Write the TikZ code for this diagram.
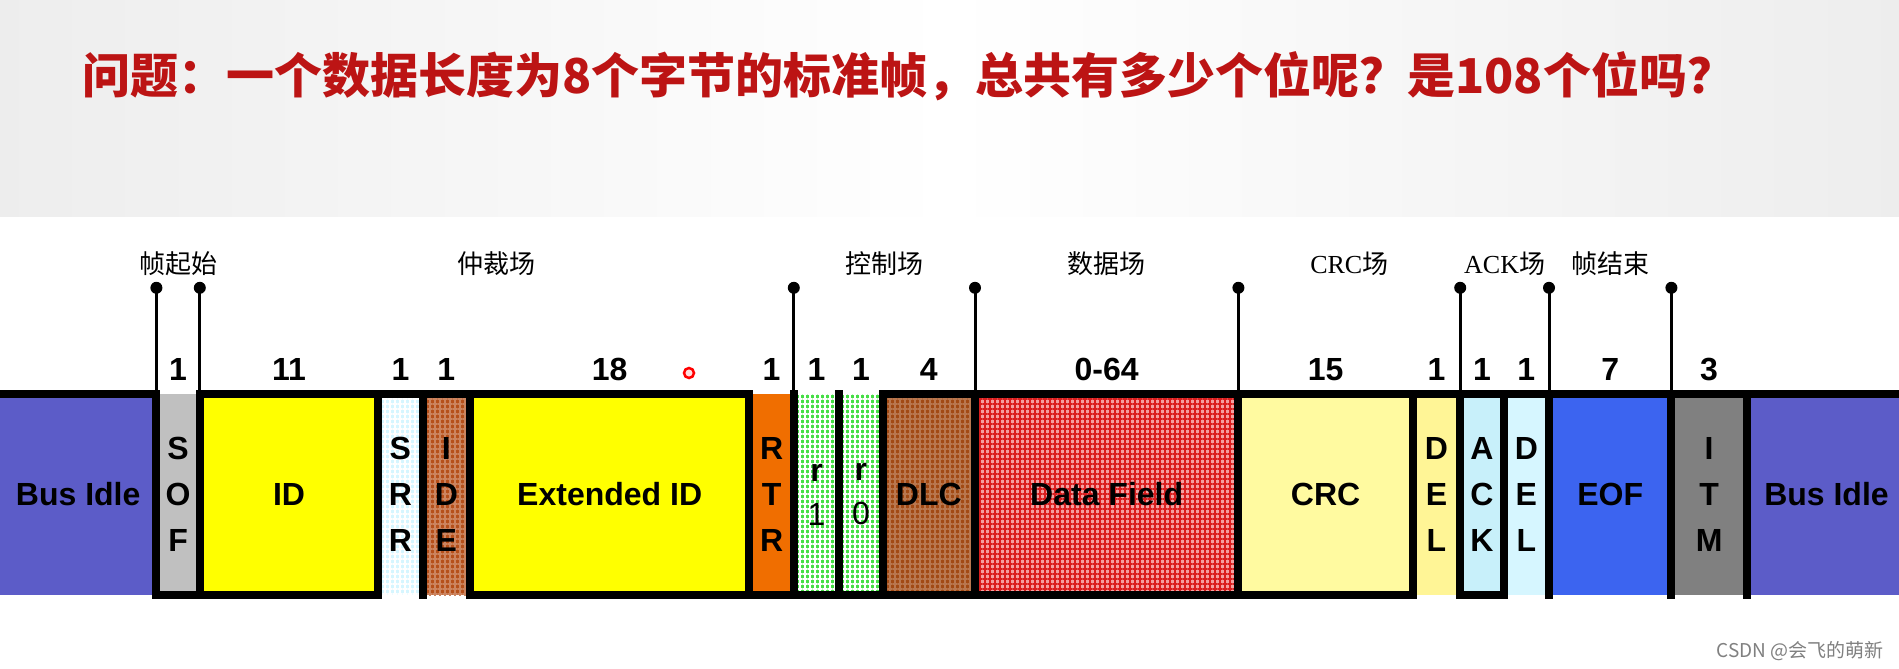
\documentclass[tikz,border=0pt]{standalone}
\usepackage{fontspec}
\setmainfont{Liberation Sans}
\newfontfamily\cjk{Noto Sans CJK SC}
\newfontfamily\romanf{Liberation Serif}
\usepackage{xcolor}
\usepackage{tikz}
\usetikzlibrary{positioning, calc, patterns.meta}

\definecolor{idleblue}{RGB}{92,92,200}
\definecolor{sofgray}{RGB}{192,192,192}
\definecolor{idyellow}{RGB}{255,255,0}
\definecolor{srrcyan}{RGB}{214,246,255}
\definecolor{idebrown}{RGB}{182,80,26}
\definecolor{rtrorange}{RGB}{240,110,0}
\definecolor{rgreen}{RGB}{70,222,70}
\definecolor{dlcbrown}{RGB}{162,74,20}
\definecolor{datapink}{RGB}{244,160,160}
\definecolor{datared}{RGB}{218,30,30}
\definecolor{crcyellow}{RGB}{255,250,160}
\definecolor{delyellow}{RGB}{255,245,150}
\definecolor{ackcyan}{RGB}{200,240,250}
\definecolor{eofblue}{RGB}{60,100,240}
\definecolor{itmgray}{RGB}{128,128,128}
\definecolor{titlered}{RGB}{188,20,20}

\begin{document}
\begin{tikzpicture}[
    x=1pt, y=-1pt,
    field/.style={rectangle, inner sep=0pt, minimum height=201, align=center, font=\fontsize{32}{46}\selectfont\bfseries},
    bits/.style={inner sep=0pt, font=\fontsize{32}{36}\selectfont\bfseries},
    phase/.style={inner sep=0pt, font=\fontsize{26}{30}\selectfont\cjk},
    level/.style={line width=8, line cap=rect},
    pin/.style={line width=3},
    mesh/.style={postaction={pattern={Lines[distance=5pt, angle=0, line width=1.2pt]}, pattern color=#1},
                 postaction={pattern={Lines[distance=5pt, angle=90, line width=1.2pt]}, pattern color=#1}}
]
\useasboundingbox[fill=white] (0,0) rectangle (1899,669);
\shade[left color=gray!14, right color=gray!14, middle color=white] (0,0) rectangle (1899,216);

% question
\node[anchor=west, inner sep=0pt, text=titlered, font=\fontsize{48}{52}\selectfont\cjk\bfseries] (question) at (82,76)
    {问题：一个数据长度为8个字节的标准帧，总共有多少个位呢？是108个位吗？};

% frame fields
\node[field, fill=idleblue, minimum width=156, anchor=west] (idle1) at (0,494.5) {Bus Idle};
\node[field, fill=sofgray, minimum width=43, right=0pt of idle1] (sof) {S\\O\\F};
\node[field, fill=idyellow, minimum width=178, right=0pt of sof] (id) {ID};
\node[field, fill=srrcyan, mesh=white, minimum width=44, right=0pt of id] (srr) {S\\R\\R};
\node[field, fill=idebrown, mesh=idebrown!70!white, minimum width=47, right=0pt of srr] (ide) {I\\D\\E};
\node[field, fill=idyellow, minimum width=279, right=0pt of ide] (extid) {Extended ID};
\node[field, fill=rtrorange, minimum width=44, right=0pt of extid] (rtr) {R\\T\\R};
\node[field, fill=rgreen, mesh=white, minimum width=45, right=0pt of rtr, font=\fontsize{32}{44}\selectfont] (rone) {\textbf{r}\\1};
\node[field, fill=rgreen, mesh=white, minimum width=43, right=0pt of rone, font=\fontsize{32}{44}\selectfont] (rzero) {\textbf{r}\\0};
\node[field, fill=dlcbrown, mesh=dlcbrown!75!white, minimum width=92, right=0pt of rzero] (dlc) {DLC};
\node[field, fill=datapink, mesh=datared, minimum width=263, right=0pt of dlc] (data) {Data Field};
\node[field, fill=crcyellow, minimum width=174, right=0pt of data] (crc) {CRC};
\node[field, fill=delyellow, minimum width=47, right=0pt of crc] (cdel) {D\\E\\L};
\node[field, fill=ackcyan, minimum width=43, right=0pt of cdel] (ack) {A\\C\\K};
\node[field, fill=srrcyan, minimum width=45, right=0pt of ack] (adel) {D\\E\\L};
\node[field, fill=eofblue, minimum width=122, right=0pt of adel] (eof) {EOF};
\node[field, fill=itmgray, minimum width=75, right=0pt of eof] (itm) {I\\T\\M};
\node[field, fill=idleblue, minimum width=159, right=0pt of itm] (idle2) {Bus Idle};

% bus levels
\draw[level] (idle1.north west) -- (idle1.north east);
\draw[level] (id.north west) -- (extid.north east);
\draw[level] (dlc.north west) -- ([xshift=-6pt]idle2.north east);
\draw[level] (sof.south west) -- (id.south east);
\draw[level] (extid.south west) -- (crc.south east);
\draw[level] (ack.south west) -- (ack.south east);
\draw[level] (sof.north west) -- (sof.south west) (id.north west) -- (id.south west)
    (srr.north west) -- (srr.south west) (ide.north west) -- (ide.south west)
    (extid.north west) -- (extid.south west) (rtr.north west) -- (rtr.south west)
    (rone.north west) -- (rone.south west) (rzero.north west) -- (rzero.south west)
    (dlc.north west) -- (dlc.south west) (data.north west) -- (data.south west)
    (crc.north west) -- (crc.south west) (cdel.north west) -- (cdel.south west)
    (ack.north west) -- (ack.south west) (adel.north west) -- (adel.south west)
    (eof.north west) -- (eof.south west) (itm.north west) -- (itm.south west)
    (idle2.north west) -- (idle2.south west);

% bit counts
\node[bits, above=13pt of sof] (nsof) {1};
\node[bits, above=13pt of id] (nid) {11};
\node[bits, above=13pt of srr] (nsrr) {1};
\node[bits, above=13pt of ide] (nide) {1};
\node[bits, above=13pt of extid] (nextid) {18};
\node[bits, above=13pt of rtr] (nrtr) {1};
\node[bits, above=13pt of rone] (nrone) {1};
\node[bits, above=13pt of rzero] (nrzero) {1};
\node[bits, above=13pt of dlc] (ndlc) {4};
\node[bits, above=13pt of data] (ndata) {0-64};
\node[bits, above=13pt of crc] (ncrc) {15};
\node[bits, above=13pt of cdel] (ncdel) {1};
\node[bits, above=13pt of ack] (nack) {1};
\node[bits, above=13pt of adel] (nadel) {1};
\node[bits, above=13pt of eof] (neof) {7};
\node[bits, above=13pt of itm] (nitm) {3};

% field limits
\coordinate[above=106pt of sof.north west] (psof);
\coordinate[above=106pt of id.north west] (pid);
\coordinate[above=106pt of rone.north west] (prone);
\coordinate[above=106pt of data.north west] (pdata);
\coordinate[above=106pt of crc.north west] (pcrc);
\coordinate[above=106pt of ack.north west] (pack);
\coordinate[above=106pt of eof.north west] (peof);
\coordinate[above=106pt of itm.north west] (pitm);
\draw[pin] (psof) -- (sof.north west) (pid) -- (id.north west) (prone) -- (rone.north west)
    (pdata) -- (data.north west) (pcrc) -- (crc.north west) (pack) -- (ack.north west)
    (peof) -- (eof.north west) (pitm) -- (itm.north west);
\fill (psof) circle (6) (pid) circle (6) (prone) circle (6) (pdata) circle (6)
    (pcrc) circle (6) (pack) circle (6) (peof) circle (6) (pitm) circle (6);

\node[phase] (lsof) at ($(psof)!.5!(pid)+(0,-24)$) {帧起始};
\node[phase] (larb) at ($(pid)!.5!(prone)+(0,-24)$) {仲裁场};
\node[phase] (lctrl) at ($(prone)!.5!(pdata)+(0,-24)$) {控制场};
\node[phase] (ldata) at ($(pdata)!.5!(pcrc)+(0,-24)$) {数据场};
\node[phase] (lcrc) at ($(pcrc)!.5!(pack)+(0,-24)$) {{\romanf CRC}场};
\node[phase] (lack) at ($(pack)!.5!(peof)+(0,-24)$) {{\romanf ACK}场};
\node[phase] (leof) at ($(peof)!.5!(pitm)+(0,-24)$) {帧结束};

\node[circle, draw=red, line width=2.5, fill=red!12, minimum size=10, inner sep=0pt] (cursor) at (689,373) {};
\node[anchor=east, inner sep=0pt, text=gray, font=\fontsize{19}{22}\selectfont\cjk] (mark) at (1884,651) {CSDN @会飞的萌新};
\end{tikzpicture}
\end{document}
